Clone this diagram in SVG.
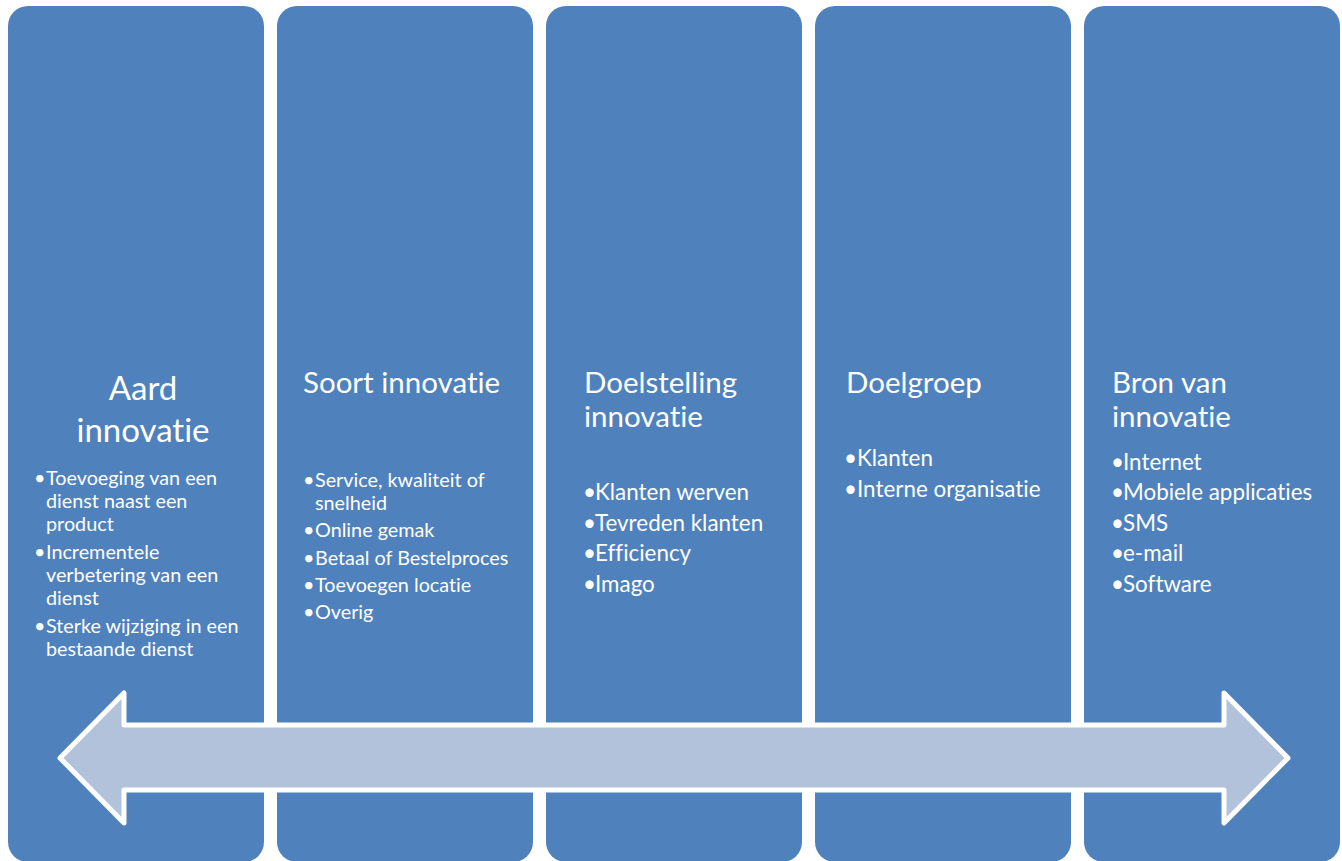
<svg xmlns="http://www.w3.org/2000/svg" width="1342" height="861" viewBox="0 0 1342 861">
  <style>
    text { font-variant-ligatures: none; font-feature-settings: "liga" 0, "dlig" 0; }
    .col { fill: #4F81BD; }
    .title { fill: #FFFFFF; font-family: Lato, "Liberation Sans", sans-serif; font-size: 29.5px; }
    .title-lg { font-size: 33px; }
    .item { fill: #FFFFFF; font-family: Lato, "Liberation Sans", sans-serif; font-size: 19.8px; }
    .item-md { font-size: 22.4px; }
    .arrow { fill: #B3C2DB; stroke: #FFFFFF; stroke-width: 5; stroke-linejoin: round; }
  </style>
  <rect width="1342" height="861" fill="#FFFFFF"/>

  <!-- columns -->
  <g id="col-aard">
    <rect class="col" x="8" y="6" width="256" height="856" rx="20"/>
    <text class="title title-lg" text-anchor="middle" x="143" y="400">Aard</text>
    <text class="title title-lg" text-anchor="middle" x="143" y="442">innovatie</text>
    <text class="item" x="34" y="485">•</text>
    <text class="item" x="46" y="485">Toevoeging van een</text>
    <text class="item" x="46" y="508">dienst naast een</text>
    <text class="item" x="46" y="531">product</text>
    <text class="item" x="34" y="559">•</text>
    <text class="item" x="46" y="559">Incrementele</text>
    <text class="item" x="46" y="582">verbetering van een</text>
    <text class="item" x="46" y="605">dienst</text>
    <text class="item" x="34" y="633">•</text>
    <text class="item" x="46" y="633">Sterke wijziging in een</text>
    <text class="item" x="46" y="656">bestaande dienst</text>
  </g>

  <g id="col-soort">
    <rect class="col" x="277" y="6" width="256" height="856" rx="20"/>
    <text class="title" x="303" y="393">Soort innovatie</text>
    <text class="item" x="303" y="487">•</text>
    <text class="item" x="315" y="487">Service, kwaliteit of</text>
    <text class="item" x="315" y="510">snelheid</text>
    <text class="item" x="303" y="537">•</text>
    <text class="item" x="315" y="537">Online gemak</text>
    <text class="item" x="303" y="565">•</text>
    <text class="item" x="315" y="565">Betaal of Bestelproces</text>
    <text class="item" x="303" y="592">•</text>
    <text class="item" x="315" y="592">Toevoegen locatie</text>
    <text class="item" x="303" y="619">•</text>
    <text class="item" x="315" y="619">Overig</text>
  </g>

  <g id="col-doelstelling">
    <rect class="col" x="546" y="6" width="256" height="856" rx="20"/>
    <text class="title" x="584" y="393">Doelstelling</text>
    <text class="title" x="584" y="427">innovatie</text>
    <text class="item item-md" x="583" y="500">•</text>
    <text class="item item-md" x="595" y="500">Klanten werven</text>
    <text class="item item-md" x="583" y="531">•</text>
    <text class="item item-md" x="595" y="531">Tevreden klanten</text>
    <text class="item item-md" x="583" y="561">•</text>
    <text class="item item-md" x="595" y="561">Efficiency</text>
    <text class="item item-md" x="583" y="592">•</text>
    <text class="item item-md" x="595" y="592">Imago</text>
  </g>

  <g id="col-doelgroep">
    <rect class="col" x="815" y="6" width="256" height="856" rx="20"/>
    <text class="title" x="846" y="393">Doelgroep</text>
    <text class="item item-md" x="844" y="466">•</text>
    <text class="item item-md" x="857" y="466">Klanten</text>
    <text class="item item-md" x="844" y="497">•</text>
    <text class="item item-md" x="857" y="497">Interne organisatie</text>
  </g>

  <g id="col-bron">
    <rect class="col" x="1084" y="6" width="256" height="856" rx="20"/>
    <text class="title" x="1112" y="393">Bron van</text>
    <text class="title" x="1112" y="427">innovatie</text>
    <text class="item item-md" x="1111" y="470">•</text>
    <text class="item item-md" x="1123" y="470">Internet</text>
    <text class="item item-md" x="1111" y="500">•</text>
    <text class="item item-md" x="1123" y="500">Mobiele applicaties</text>
    <text class="item item-md" x="1111" y="531">•</text>
    <text class="item item-md" x="1123" y="531">SMS</text>
    <text class="item item-md" x="1111" y="561">•</text>
    <text class="item item-md" x="1123" y="561">e-mail</text>
    <text class="item item-md" x="1111" y="592">•</text>
    <text class="item item-md" x="1123" y="592">Software</text>
  </g>

  <!-- double-headed timeline arrow across all columns -->
  <g id="connectors">
    <path class="arrow" d="M60,758 L124,693 L124,725 L1224,725 L1224,693 L1288,758 L1224,823 L1224,790 L124,790 L124,823 Z"/>
  </g>
</svg>
